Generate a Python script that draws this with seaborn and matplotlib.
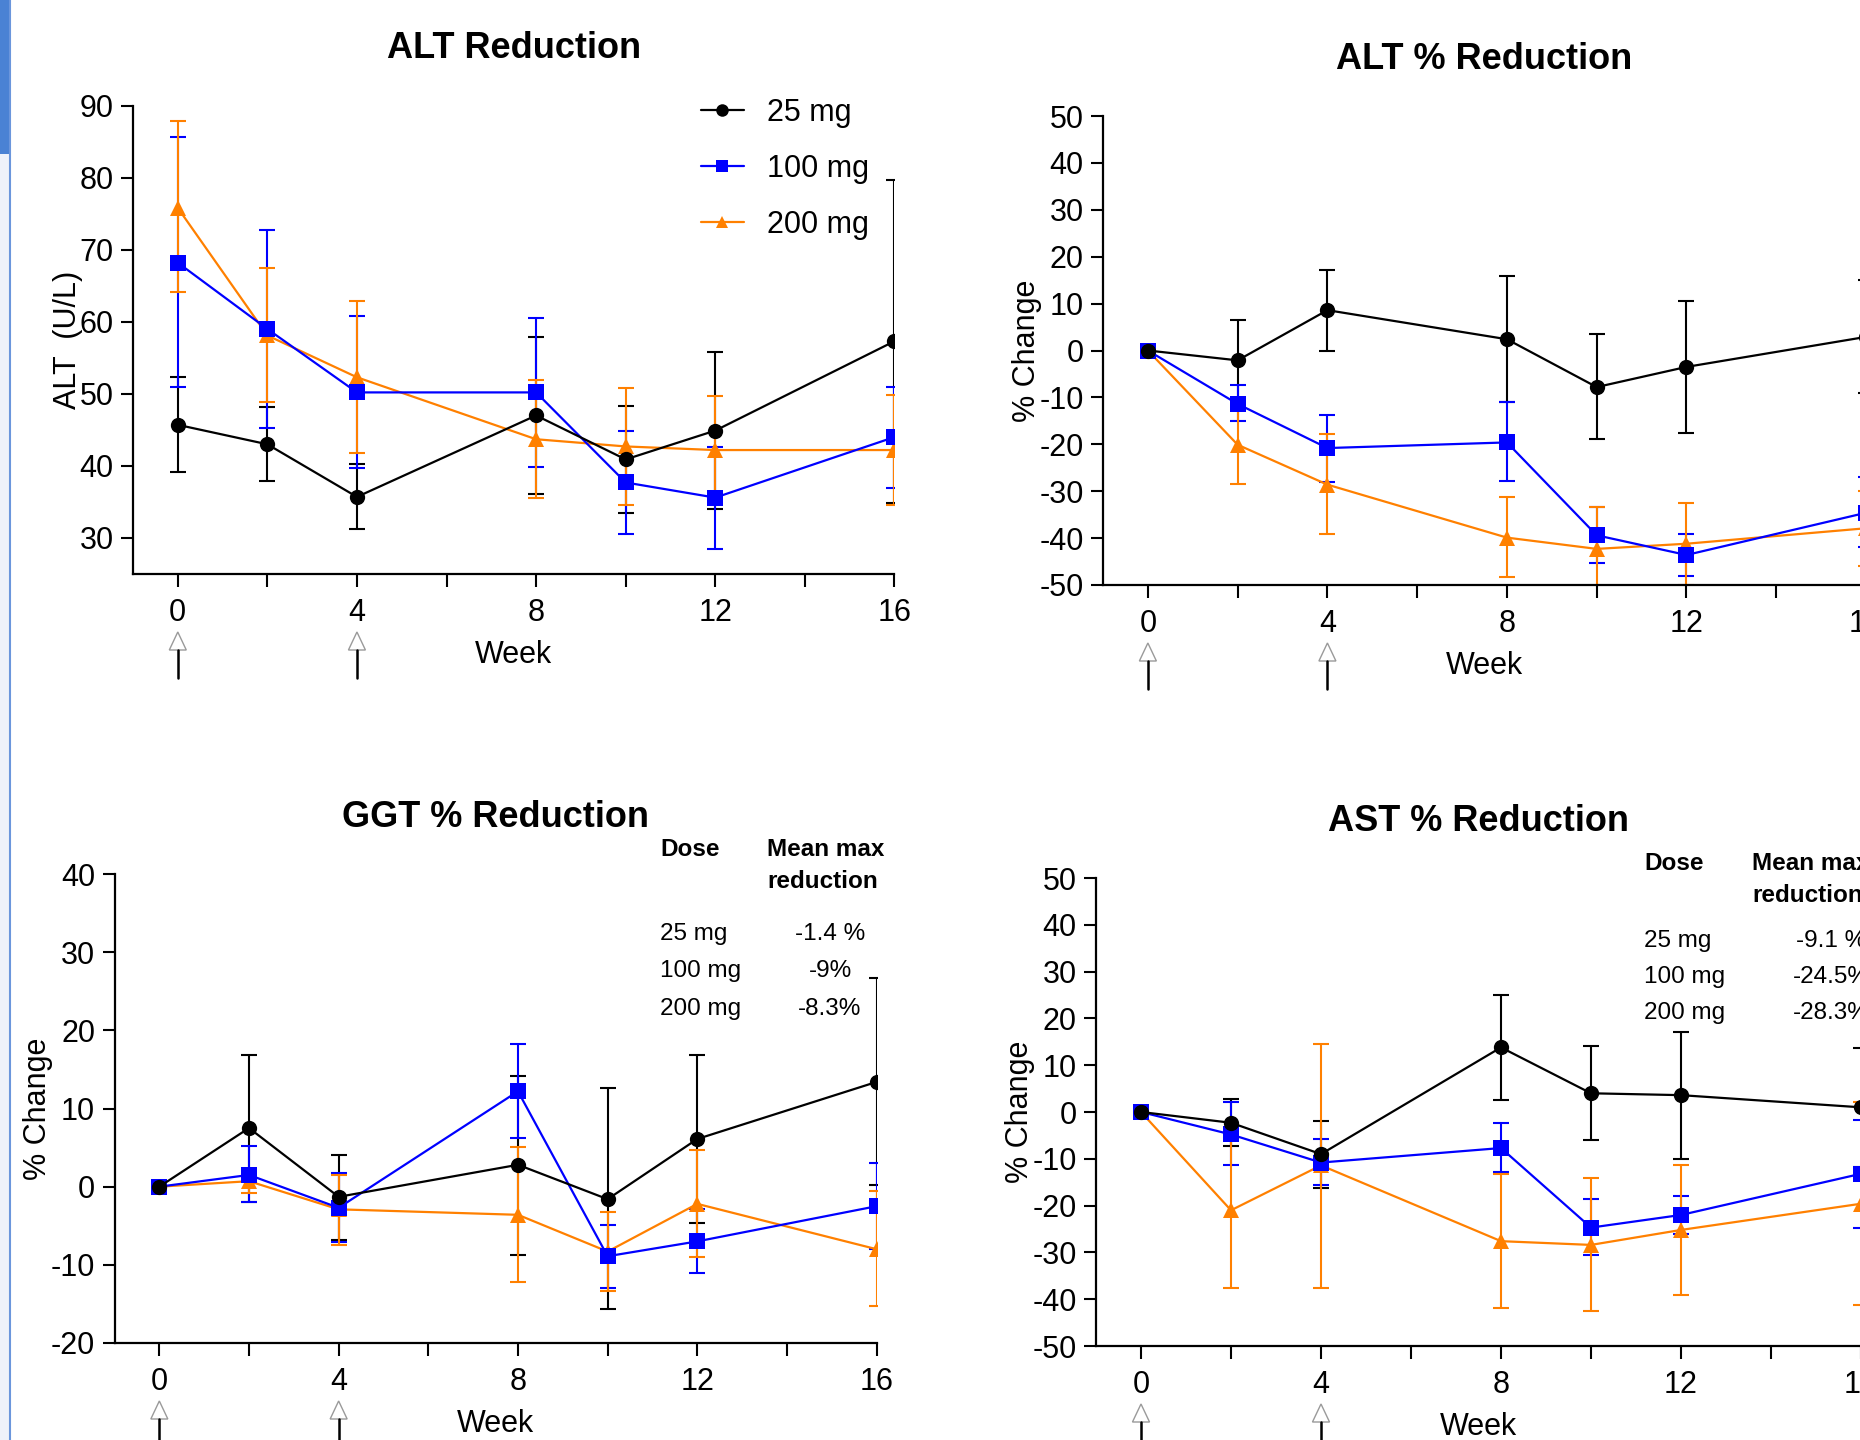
import numpy as np
import pandas as pd
import matplotlib
matplotlib.use("Agg")
import matplotlib.pyplot as plt
import seaborn as sns
from matplotlib.lines import Line2D
from matplotlib.patches import Polygon, Rectangle

# ---- data ----
weeks = [0, 2, 4, 8, 10, 12, 16]
doses = ["25 mg", "100 mg", "200 mg"]
colors = {"25 mg": "#000000", "100 mg": "#0000FF", "200 mg": "#FF8000"}
markers = {"25 mg": "o", "100 mg": "s", "200 mg": "^"}

# ALT (U/L)
alt_25 = [45.7, 43.0, 35.7, 47.0, 40.9, 44.9, 57.3]
alt_25_lo = [39.1, 37.9, 31.3, 36.1, 33.5, 34.0, 34.9]
alt_25_hi = [52.3, 48.2, 40.2, 57.9, 48.3, 55.8, 79.7]
alt_100 = [68.2, 59.0, 50.2, 50.2, 37.7, 35.6, 44.0]
alt_100_lo = [51.0, 45.2, 39.7, 39.8, 30.5, 28.5, 37.0]
alt_100_hi = [85.6, 72.7, 60.8, 60.5, 44.9, 42.6, 51.0]
alt_200 = [75.8, 58.1, 52.3, 43.7, 42.7, 42.2, 42.2]
alt_200_lo = [64.1, 48.9, 41.8, 35.5, 34.6, 34.7, 34.6]
alt_200_hi = [87.8, 67.5, 62.9, 51.9, 50.8, 49.7, 49.9]

# ALT % change
altp_25 = [0, -2.1, 8.6, 2.4, -7.8, -3.5, 2.9]
altp_25_lo = [0, -10.6, 0.0, -11.0, -18.9, -17.6, -9.0]
altp_25_hi = [0, 6.4, 17.1, 15.8, 3.5, 10.5, 15.0]
altp_100 = [0, -11.4, -20.8, -19.6, -39.4, -43.6, -34.6]
altp_100_lo = [0, -15.0, -28.0, -27.9, -45.3, -48.1, -42.0]
altp_100_hi = [0, -7.4, -13.7, -11.0, -33.4, -39.1, -27.0]
altp_200 = [0, -20.1, -28.6, -39.9, -42.3, -41.2, -37.9]
altp_200_lo = [0, -28.5, -39.2, -48.2, -51.0, -50.0, -46.0]
altp_200_hi = [0, -11.7, -17.8, -31.3, -33.3, -32.5, -30.0]

# GGT % change
ggt_25 = [0, 7.5, -1.3, 2.8, -1.6, 6.1, 13.4]
ggt_25_lo = [0, -1.9, -6.8, -8.7, -15.7, -4.7, 0.2]
ggt_25_hi = [0, 16.9, 4.1, 14.2, 12.6, 16.9, 26.7]
ggt_100 = [0, 1.5, -2.7, 12.2, -8.9, -7.0, -2.5]
ggt_100_lo = [0, -2.0, -7.1, 6.2, -13.0, -11.1, -8.0]
ggt_100_hi = [0, 5.2, 1.7, 18.3, -4.9, -2.9, 3.0]
ggt_200 = [0, 0.7, -2.9, -3.6, -8.3, -2.2, -8.0]
ggt_200_lo = [0, -0.8, -7.4, -12.2, -13.4, -9.0, -15.3]
ggt_200_hi = [0, 2.2, 1.5, 5.1, -3.2, 4.7, -0.6]

# AST % change
ast_25 = [0, -2.3, -9.0, 13.8, 4.0, 3.6, 1.0]
ast_25_lo = [0, -7.2, -16.3, 2.6, -5.9, -10.0, -11.7]
ast_25_hi = [0, 2.8, -1.9, 25.0, 14.0, 17.2, 13.7]
ast_100 = [0, -4.8, -10.8, -7.7, -24.7, -22.0, -13.2]
ast_100_lo = [0, -11.4, -15.7, -12.9, -30.5, -26.1, -24.7]
ast_100_hi = [0, 2.1, -5.8, -2.4, -18.5, -17.9, -1.7]
ast_200 = [0, -21.0, -11.4, -27.6, -28.4, -25.2, -19.6]
ast_200_lo = [0, -37.6, -37.5, -41.8, -42.6, -39.2, -41.3]
ast_200_hi = [0, -4.4, 14.5, -13.2, -14.2, -11.4, 2.1]

ggt_table = ["-1.4 %", "-9%", "-8.3%"]
ast_table = ["-9.1 %", "-24.5%", "-28.3%"]

W, H = 1860, 1440

sns.set_style("ticks")
plt.rcParams.update({
    "font.family": ["Liberation Sans", "DejaVu Sans"],
    "axes.unicode_minus": False,
    "font.size": 22,
    "text.color": "black",
    "axes.labelcolor": "black",
    "axes.titlecolor": "black",
    "xtick.color": "black",
    "ytick.color": "black",
    "axes.edgecolor": "black",
})

fig = plt.figure(figsize=(W / 100, H / 100), dpi=100)


def px_axes(left, top, right, bottom):
    return fig.add_axes([left / W, 1 - bottom / H, (right - left) / W, (bottom - top) / H])


def draw_panel(ax, means, los, his, ylim, yticks, title, ylabel, ylab_x, h_px):
    frames = []
    for d, m in zip(doses, means):
        frames.append(pd.DataFrame({"week": weeks, "value": m, "dose": d}))
    df = pd.concat(frames, ignore_index=True)
    order = ["200 mg", "100 mg", "25 mg"]
    for d, m, lo, hi in zip(doses, means, los, his):
        m = np.array(m)
        err = [m - np.array(lo), np.array(hi) - m]
        ax.errorbar(weeks, m, yerr=err, fmt="none", ecolor=colors[d],
                    elinewidth=1.5, capsize=6, capthick=1.5, zorder=1.5)
    sns.lineplot(data=df, x="week", y="value", hue="dose", style="dose",
                 hue_order=order, style_order=order, palette=colors,
                 markers=markers, dashes=False, markersize=11,
                 markeredgewidth=0, linewidth=1.6, legend=False, ax=ax)
    ax.set_xlim(-1, 16)
    ax.set_ylim(*ylim)
    ax.set_xticks(range(0, 17, 2))
    ax.set_xticklabels(["0", "", "4", "", "8", "", "12", "", "16"])
    ax.set_yticks(yticks)
    ax.tick_params(axis="both", length=9, width=1.5, color="black",
                   labelcolor="black", labelsize=22, direction="out")
    ax.tick_params(axis="x", pad=8)
    ax.tick_params(axis="y", pad=5)
    for s in ["top", "right"]:
        ax.spines[s].set_visible(False)
    for s in ["left", "bottom"]:
        ax.spines[s].set_linewidth(1.6)
        ax.spines[s].set_color("black")
    ax.set_xlabel("Week", fontsize=22, labelpad=9)
    ax.set_ylabel("")
    ax.text(ylab_x, 0.5, ylabel, transform=ax.transAxes, rotation=90,
            ha="center", va="center", fontsize=22)
    ax.set_title(title, fontsize=26, fontweight="bold", pad=34)
    # dosing arrows under week 0 and 4
    tr = ax.get_xaxis_transform()
    for x in [0, 4]:
        tip, base, end = -58 / h_px, -76 / h_px, -104 / h_px
        hw = 8.5 / 44.85
        tri = Polygon([[x - hw, base], [x + hw, base], [x, tip]], closed=True,
                      facecolor="white", edgecolor="#9a9a9a", lw=1.0,
                      transform=tr, clip_on=False)
        ax.add_patch(tri)
        ax.add_line(Line2D([x, x], [base, end], color="black", lw=1.8,
                           transform=tr, clip_on=False))


# Top-left: ALT (U/L)
ax1 = px_axes(133, 105.6, 894.4, 574)
draw_panel(ax1, [alt_25, alt_100, alt_200], [alt_25_lo, alt_100_lo, alt_200_lo],
           [alt_25_hi, alt_100_hi, alt_200_hi], (25, 90), range(30, 91, 10),
           "ALT Reduction", "ALT  (U/L)", -0.085, 574 - 105.6)
handles = [Line2D([], [], color=colors[d], marker=markers[d], markersize=9,
                  markeredgewidth=0, lw=1.6) for d in doses]
ax1.legend(handles, doses, loc="upper left", bbox_to_anchor=(701 / W, 1 - 98 / H),
           bbox_transform=fig.transFigure, frameon=False, fontsize=22,
           handlelength=1.4, handletextpad=0.75, labelspacing=0.85,
           borderpad=0, borderaxespad=0)

# Top-right: ALT % change
ax2 = px_axes(1103, 116, 1866, 585)
draw_panel(ax2, [altp_25, altp_100, altp_200], [altp_25_lo, altp_100_lo, altp_200_lo],
           [altp_25_hi, altp_100_hi, altp_200_hi], (-50, 50), range(-50, 51, 10),
           "ALT % Reduction", "% Change", -0.100, 585 - 116)

# Bottom-left: GGT % change
ax3 = px_axes(114.5, 874, 876.6, 1343)
draw_panel(ax3, [ggt_25, ggt_100, ggt_200], [ggt_25_lo, ggt_100_lo, ggt_200_lo],
           [ggt_25_hi, ggt_100_hi, ggt_200_hi], (-20, 40), range(-20, 41, 10),
           "GGT % Reduction", "% Change", -0.100, 1343 - 874)

# Bottom-right: AST % change
ax4 = px_axes(1096, 878, 1861, 1346)
draw_panel(ax4, [ast_25, ast_100, ast_200], [ast_25_lo, ast_100_lo, ast_200_lo],
           [ast_25_hi, ast_100_hi, ast_200_hi], (-50, 50), range(-50, 51, 10),
           "AST % Reduction", "% Change", -0.0995, 1346 - 878)


def table(x_dose, x_head, x_val, y_head, y_rows, values):
    fig.text(x_dose / W, 1 - y_head / H, "Dose", fontsize=17.5, fontweight="bold",
             ha="left", va="center")
    fig.text(x_head / W, 1 - y_head / H, "Mean max", fontsize=17.5,
             fontweight="bold", ha="left", va="center")
    fig.text(x_head / W, 1 - (y_head + 31) / H, "reduction", fontsize=17.5,
             fontweight="bold", ha="left", va="center")
    for d, v, y in zip(doses, values, y_rows):
        fig.text(x_dose / W, 1 - y / H, d, fontsize=17.5, ha="left", va="center")
        fig.text(x_val / W, 1 - y / H, v, fontsize=17.5, ha="center", va="center")


table(660, 767, 830, 850, [934, 971, 1009], ggt_table)
table(1644, 1752, 1831, 864, [941, 977, 1013], ast_table)

# slide sidebar strip on the left edge
fig.patches.append(Rectangle((0, 0), 10 / W, 1, transform=fig.transFigure,
                             facecolor="#eef2fa", edgecolor="none"))
fig.patches.append(Rectangle((0, 1 - 154 / H), 9 / W, 154 / H, transform=fig.transFigure,
                             facecolor="#4a82d4", edgecolor="none"))
fig.lines.append(Line2D([9.5 / W, 9.5 / W], [0, 1], transform=fig.transFigure,
                        color="#6b96dc", lw=1.5))

fig.savefig("out.png", dpi=100)
